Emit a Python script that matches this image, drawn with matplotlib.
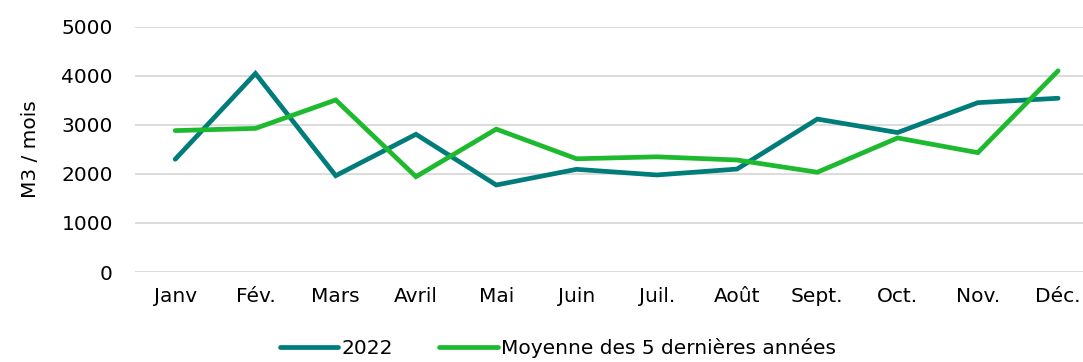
import matplotlib
matplotlib.use('Agg')
import matplotlib.pyplot as plt

months = ['Janv', 'Fév.', 'Mars', 'Avril', 'Mai', 'Juin',
          'Juil.', 'Août', 'Sept.', 'Oct.', 'Nov.', 'Déc.']
conso_2022 = [2300, 4050, 1965, 2810, 1775, 2095, 1980, 2100, 3120, 2845, 3455, 3545]
moyenne_5ans = [2885, 2930, 3510, 1945, 2915, 2310, 2350, 2285, 2035, 2735, 2435, 4105]
yticks = [0, 1000, 2000, 3000, 4000, 5000]

TEAL = '#007d7a'
GREEN = '#1db92e'

plt.rcParams['font.family'] = 'DejaVu Sans'
plt.rcParams['font.size'] = 14.5

fig = plt.figure(figsize=(10.83, 3.62), dpi=100)
ax = fig.add_axes([0.1247, 0.2486, 0.8753, 0.677])

x = range(len(months))
ax.plot(x, conso_2022, color=TEAL, lw=3.4, solid_capstyle='round',
        solid_joinstyle='miter', label='2022')
ax.plot(x, moyenne_5ans, color=GREEN, lw=3.4, solid_capstyle='round',
        solid_joinstyle='miter', label='Moyenne des 5 dernières années')

ax.set_xlim(-0.5, 11.31)
ax.set_ylim(0, 5000)
ax.set_yticks(yticks)
ax.set_xticks(list(x))
ax.set_xticklabels(months)
ax.grid(axis='y', color='#d9d9d9', lw=1.3)
ax.set_axisbelow(True)
for s in ax.spines.values():
    s.set_visible(False)
ax.tick_params(axis='both', length=0, labelsize=14.5)
ax.tick_params(axis='y', pad=16)
ax.tick_params(axis='x', pad=11)
ax.set_ylabel('M3 / mois', fontsize=14.5)
ax.yaxis.set_label_coords(-0.1, 0.5)

fig.legend(loc='center', bbox_to_anchor=(0.515, 0.038), ncol=2, frameon=False,
           handlelength=2.9, handletextpad=0.15, columnspacing=2.3, fontsize=14.5)

fig.savefig('out.png', dpi=100)
